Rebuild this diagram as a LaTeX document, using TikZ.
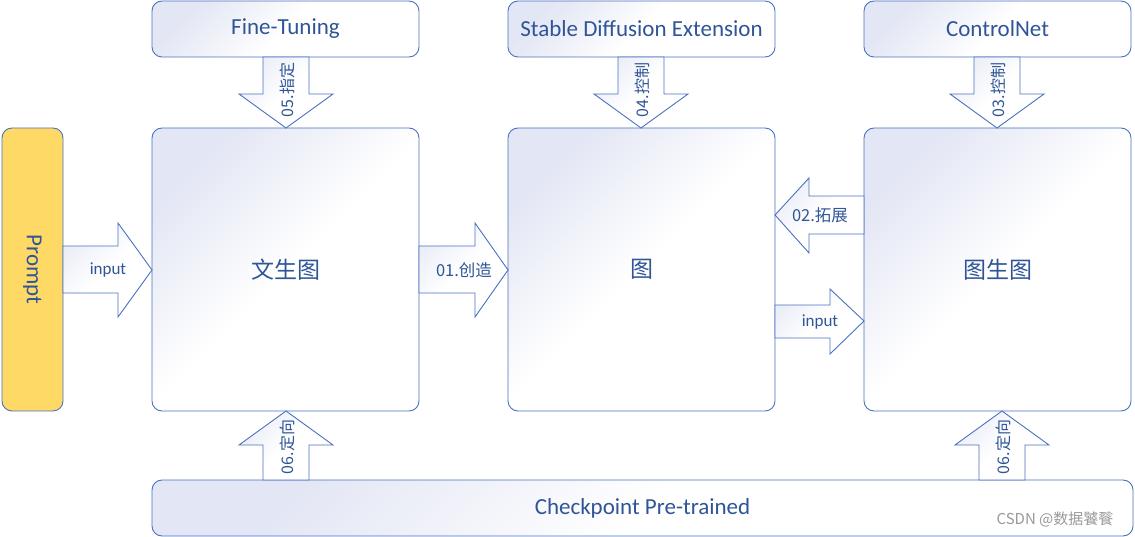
\documentclass[tikz,border=0pt]{standalone}
\usepackage{fontspec}
\setmainfont{Carlito}
\newfontfamily\cjk{Noto Sans CJK SC}
\begin{document}
\definecolor{bd}{HTML}{4A72C0}
\definecolor{tx}{HTML}{2F5597}
\definecolor{lav}{HTML}{E3E6F4}
\definecolor{pr}{HTML}{FFD966}
\tikzset{
 box/.style={draw=bd,line width=0.9pt,rounded corners=10pt,top color=lav,bottom color=white,middle color=white,shading angle=45,text=tx,inner sep=0pt},
 arr/.style={draw=bd,line width=0.9pt,top color=lav!70,bottom color=white,middle color=white,shading angle=45},
 lab/.style={text=tx,font=\fontsize{16.5}{18}\selectfont\cjk},
 small/.style={text=tx,font=\fontsize{16}{18}\selectfont\cjk},
 en/.style={text=tx,font=\fontsize{17}{19}\selectfont},
 big/.style={text=tx,font=\fontsize{23}{26}\selectfont},
 huge/.style={text=tx,font=\fontsize{23}{26}\selectfont\cjk},
}
\begin{tikzpicture}[x=1pt,y=-1pt]
\useasboundingbox (0,0) rectangle (1135,537);
% boxes
\node[box,minimum width=267pt,minimum height=56pt,big] (ft) at (285.5,29) {Fine-Tuning};
\node[box,minimum width=267pt,minimum height=56pt,big] (sd) at (641.5,29) {Stable Diffusion Extension};
\node[box,minimum width=267pt,minimum height=56pt,big] (cn) at (997.5,29) {ControlNet};
\node[draw=bd,line width=0.9pt,rounded corners=10pt,fill=pr,minimum width=61pt,minimum height=283pt,inner sep=0pt] (pm) at (32.5,269.5) {};
\node[big,rotate=-90] at (pm.center) {Prompt};
\node[box,minimum width=267pt,minimum height=283pt] (t2i) at (285.5,269.5) {};
\node[huge] at (t2i.center) {文生图};
\node[box,minimum width=267pt,minimum height=283pt] (img) at (641.5,269.5) {};
\node[huge] at (img.center) {图};
\node[box,minimum width=267pt,minimum height=283pt] (i2i) at (997.5,269.5) {};
\node[huge] at (i2i.center) {图生图};
\node[box,minimum width=981pt,minimum height=56pt,big] (ck) at (642.5,508) {Checkpoint Pre-trained};
% down arrows
\foreach \c/\t in {286/05.指定,641/04.控制,997/03.控制}{
 \draw[arr] (\c-23,57) -- (\c+23,57) -- (\c+23,94) -- (\c+47,94) -- (\c,128) -- (\c-47,94) -- (\c-23,94) -- cycle;
 \node[small,rotate=90] at (\c+1,90) {\t};
}
% up arrows
\foreach \c in {286,1002}{
 \draw[arr] (\c-23,480) -- (\c+23,480) -- (\c+23,445) -- (\c+47,445) -- (\c,411) -- (\c-47,445) -- (\c-23,445) -- cycle;
 \node[small,rotate=90] at (\c+1,447) {06.定向};
}
% right arrows
\draw[arr] (63,246) -- (118,246) -- (118,223) -- (152,270) -- (118,317) -- (118,293) -- (63,293) -- cycle;
\node[en] at (108,270) {input};
\draw[arr] (419,246) -- (475,246) -- (475,223) -- (508,270) -- (475,317) -- (475,293) -- (419,293) -- cycle;
\node[lab] at (464,270) {01.创造};
\draw[arr] (864,196) -- (809,196) -- (809,178) -- (775,215) -- (809,253) -- (809,234) -- (864,234) -- cycle;
\node[lab] at (820,215) {02.拓展};
\draw[arr] (775,305) -- (830,305) -- (830,289) -- (864,321) -- (830,354) -- (830,338) -- (775,338) -- cycle;
\node[en] at (820,322) {input};
\node[text=gray!80,font=\fontsize{15}{17}\selectfont\cjk] at (1055,519) {CSDN @数据饕餮};
\end{tikzpicture}
\end{document}
